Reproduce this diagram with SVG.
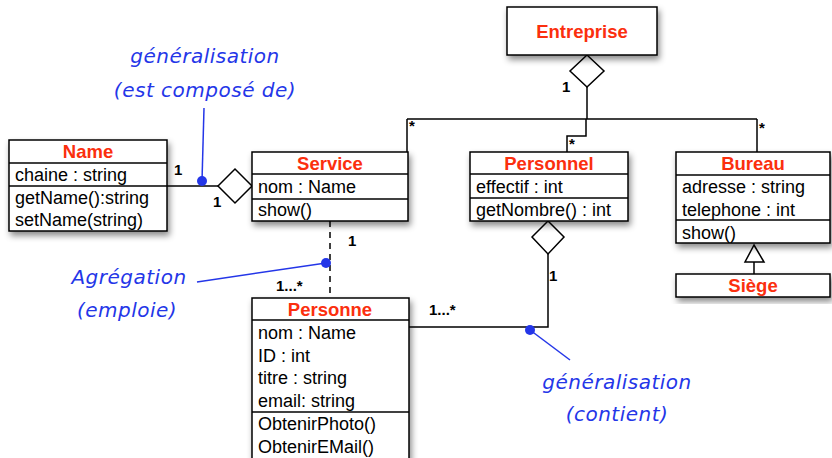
<svg xmlns="http://www.w3.org/2000/svg" width="832" height="458" viewBox="0 0 832 458">
<defs>
<filter id="sh" x="-10%" y="-10%" width="130%" height="140%">
<feDropShadow dx="2" dy="4" stdDeviation="3" flood-color="#000" flood-opacity="0.45"/>
</filter>
</defs>
<style>
.box{fill:#fff;stroke:#000;stroke-width:1.5}
.sep{stroke:#000;stroke-width:1.5}
.title{font-family:"Liberation Sans",Arial,sans-serif;font-weight:bold;font-size:18.5px;fill:#fb2f0e;text-anchor:middle}
.t{font-family:"Liberation Sans",Arial,sans-serif;font-size:18px;fill:#000}
.c{fill:none;stroke:#000;stroke-width:1.5}
.m{font-family:"Liberation Sans",Arial,sans-serif;font-weight:bold;font-size:15px;fill:#000}
.hand{font-family:"DejaVu Sans",sans-serif;font-style:italic;font-size:20px;fill:#2436e8;text-anchor:middle;letter-spacing:0.5px}
.bl{fill:none;stroke:#2436e8;stroke-width:1.5}
.dot{fill:#2436e8}
</style>

<g id="connectors">
<!-- Name - Service composition -->
<line class="c" x1="167" y1="186" x2="218" y2="186"/>
<polygon class="c" style="fill:#fff" points="218,186 235,169 252,186 235,203"/>
<text class="m" x="174" y="175">1</text>
<text class="m" x="213" y="207">1</text>
<!-- Entreprise aggregation -->
<polygon class="c" style="fill:#fff" points="587,55 604,71 587,87 570,71"/>
<polyline class="c" points="587,87 587,119"/>
<line class="c" x1="407" y1="119" x2="757" y2="119"/>
<polyline class="c" points="407,119 407,152"/>
<polyline class="c" points="757,119 757,152"/>
<polyline class="c" points="586,119 586,136 567,136 567,152"/>
<text class="m" x="562" y="92">1</text>
<text class="m" x="409" y="131">*</text>
<text class="m" x="569" y="149">*</text>
<text class="m" x="759" y="133">*</text>
<!-- Service - Personne dashed -->
<line class="c" x1="330" y1="221" x2="330" y2="298" stroke-dasharray="6,5"/>
<text class="m" x="348" y="246">1</text>
<text class="m" x="276" y="291">1...*</text>
<!-- Personnel - Personne -->
<polygon class="c" style="fill:#fff" points="548,221 564,237 548,254 532,237"/>
<polyline class="c" points="548,254 548,327 409,327"/>
<text class="m" x="549" y="281">1</text>
<text class="m" x="429" y="315">1...*</text>
<!-- Bureau - Siège generalization -->
<polygon class="c" style="fill:#fff" points="754,245 764,262 745,262"/>
<line class="c" x1="754" y1="262" x2="754" y2="274"/>
</g>

<g id="annotations">
<line class="bl" x1="204" y1="108" x2="202" y2="181"/>
<circle class="dot" cx="202" cy="181" r="5"/>
<text class="hand" x="205" y="63">généralisation</text>
<text class="hand" x="205" y="97">(est composé de)</text>
<line class="bl" x1="197" y1="282" x2="326" y2="263"/>
<circle class="dot" cx="326" cy="263" r="5"/>
<text class="hand" x="129" y="284">Agrégation</text>
<text class="hand" x="127" y="317">(emploie)</text>
<line class="bl" x1="530" y1="330" x2="570" y2="360"/>
<circle class="dot" cx="530" cy="330" r="5"/>
<text class="hand" x="617" y="389">généralisation</text>
<text class="hand" x="617" y="421">(contient)</text>
</g>

<g id="Entreprise">
<rect class="box" filter="url(#sh)" x="507" y="7" width="150" height="48"/>
<text class="title" x="582" y="38">Entreprise</text>
</g>

<g id="Name">
<rect class="box" filter="url(#sh)" x="9" y="140" width="158" height="91"/>
<line class="sep" x1="9" y1="163" x2="167" y2="163"/>
<line class="sep" x1="9" y1="186" x2="167" y2="186"/>
<text class="title" x="88" y="158">Name</text>
<text class="t" x="15" y="181">chaine : string</text>
<text class="t" x="15" y="204">getName():string</text>
<text class="t" x="15" y="226">setName(string)</text>
</g>

<g id="Service">
<rect class="box" filter="url(#sh)" x="252" y="152" width="156" height="69"/>
<line class="sep" x1="252" y1="174" x2="408" y2="174"/>
<line class="sep" x1="252" y1="199" x2="408" y2="199"/>
<text class="title" x="330" y="170">Service</text>
<text class="t" x="258" y="193">nom : Name</text>
<text class="t" x="258" y="216">show()</text>
</g>

<g id="Personnel">
<rect class="box" filter="url(#sh)" x="470" y="152" width="158" height="69"/>
<line class="sep" x1="470" y1="174" x2="628" y2="174"/>
<line class="sep" x1="470" y1="198" x2="628" y2="198"/>
<text class="title" x="549" y="170">Personnel</text>
<text class="t" x="476" y="193">effectif : int</text>
<text class="t" x="476" y="216">getNombre() : int</text>
</g>

<g id="Bureau">
<rect class="box" filter="url(#sh)" x="676" y="152" width="154" height="91"/>
<line class="sep" x1="676" y1="175" x2="830" y2="175"/>
<line class="sep" x1="676" y1="220" x2="830" y2="220"/>
<text class="title" x="753" y="170">Bureau</text>
<text class="t" x="682" y="193">adresse : string</text>
<text class="t" x="682" y="216">telephone : int</text>
<text class="t" x="682" y="239">show()</text>
</g>

<g id="Siege">
<rect class="box" filter="url(#sh)" x="676" y="274" width="154" height="23"/>
<text class="title" x="753" y="292">Siège</text>
</g>

<g id="Personne">
<rect class="box" filter="url(#sh)" x="252" y="298" width="157" height="172"/>
<line class="sep" x1="252" y1="320" x2="409" y2="320"/>
<line class="sep" x1="252" y1="412" x2="409" y2="412"/>
<text class="title" x="330" y="316">Personne</text>
<text class="t" x="258" y="339">nom : Name</text>
<text class="t" x="258" y="362">ID : int</text>
<text class="t" x="258" y="384">titre : string</text>
<text class="t" x="258" y="407">email: string</text>
<text class="t" x="258" y="430">ObtenirPhoto()</text>
<text class="t" x="258" y="453">ObtenirEMail()</text>
</g>
</svg>
